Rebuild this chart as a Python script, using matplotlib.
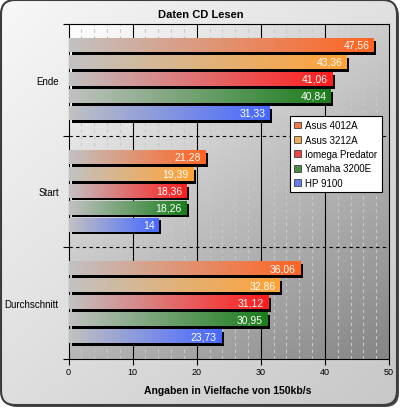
import numpy as np
import matplotlib
matplotlib.use("Agg")
import matplotlib.pyplot as plt
from matplotlib.patches import FancyBboxPatch, Patch
from matplotlib.colors import to_rgb

plt.rcParams["font.family"] = ["Liberation Sans", "DejaVu Sans"]

# data
groups = ["Ende", "Start", "Durchschnitt"]
drives = ["Asus 4012A", "Asus 3212A", "Iomega Predator", "Yamaha 3200E", "HP 9100"]
asus_4012a = [47.56, 21.28, 36.06]
asus_3212a = [43.36, 19.39, 32.86]
iomega_predator = [41.06, 18.36, 31.12]
yamaha_3200e = [40.84, 18.26, 30.95]
hp_9100 = [31.33, 14, 23.73]
series = [asus_4012a, asus_3212a, iomega_predator, yamaha_3200e, hp_9100]
colors = ["#ff6422", "#ffa236", "#ff1c1c", "#1a7d1a", "#4668ff"]
xticks = [0, 10, 20, 30, 40, 50]

GRAY = np.array([0.76, 0.76, 0.76])


def gradient(color, n=256):
    """horizontal gradient gray -> color"""
    t = np.linspace(0, 1, n)[:, None]
    rgb = GRAY * (1 - t) + np.array(to_rgb(color)) * t
    return rgb[None, :, :]


def fmt(v):
    return f"{v:g}".replace(".", ",")


fig = plt.figure(figsize=(4.01, 4.10), dpi=100)
fig.patch.set_facecolor("white")

# outer rounded frame
bg = fig.add_axes([0, 0, 1, 1], zorder=0)
bg.set_xlim(0, 401)
bg.set_ylim(410, 0)
bg.axis("off")
shadow = FancyBboxPatch((3, 3), 396, 405, boxstyle="round,pad=0,rounding_size=14",
                        fc="#4a4a4a", ec="none")
bg.add_patch(shadow)
frame = FancyBboxPatch((1, 1), 396, 405, boxstyle="round,pad=0,rounding_size=14",
                       fc="none", ec="#3c3c3c", lw=1.5, zorder=3)
bg.add_patch(frame)
yy, xx = np.mgrid[0:1:200j, 0:1:200j]
lum = 0.97 - 0.09 * xx - 0.1 * yy
im = bg.imshow(np.dstack([lum] * 3), extent=[0, 401, 410, 0], aspect="auto", zorder=2)
im.set_clip_path(frame)

# plot area
ax = fig.add_axes([68.5 / 401, 50 / 410, 320.5 / 401, 335 / 410], zorder=1)
lum = 1.0 - 0.2 * xx - 0.28 * yy
ax.imshow(np.dstack([lum] * 3), extent=[0, 1, 0, 1], transform=ax.transAxes,
          aspect="auto", zorder=0)

for x in range(2, 50, 2):
    if x % 10:
        ax.axvline(x, color="#c8c8c8", lw=0.8, ls=(0, (3, 3)), zorder=1)
    else:
        ax.axvline(x, color="black", lw=0.8, zorder=1)
for y in [1, 2]:
    ax.axhline(y, color="black", lw=0.8, ls=(0, (3, 3)), zorder=1)

h = 0.125
offsets = (np.arange(len(drives)) - 2) * 0.152 + 0.492
dx, dy = 0.47, 0.026
for i, (vals, col) in enumerate(zip(series, colors)):
    ys = np.arange(len(groups)) + offsets[i]
    ax.barh(ys + dy, vals, left=dx, height=h, color="black", zorder=2)
    bars = ax.barh(ys, vals, height=h, color="none", zorder=3)
    for bar, v in zip(bars, vals):
        y0 = bar.get_y()
        img = ax.imshow(gradient(col), extent=[0, v, y0 + h, y0], aspect="auto",
                        interpolation="bilinear", zorder=3)
        img.set_clip_path(bar)
        ax.text(v - 0.6, y0 + h / 2, fmt(v), color="white", fontsize=7.5,
                ha="right", va="center", zorder=4)

ax.set_xlim(0, 50)
ax.set_ylim(3, 0)
ax.set_xticks(xticks)
ax.tick_params(axis="x", direction="out", length=4, width=0.8, pad=1.5, labelsize=6.5)
ax.set_yticks([0, 1, 2, 3])
ax.set_yticklabels([])
ax.tick_params(axis="y", which="major", direction="out", length=4, width=0.8)
ax.set_yticks(np.arange(len(groups)) + 0.5, minor=True)
ax.set_yticklabels(groups, minor=True, fontsize=7)
ax.tick_params(axis="y", which="minor", length=0, pad=7)
for s in ax.spines.values():
    s.set_linewidth(0.8)
    s.set_color("black")

handles = [Patch(facecolor=gradient(c, 5)[0, 3], edgecolor="#404040", lw=0.6, label=d)
           for d, c in zip(drives, colors)]
leg = ax.legend(handles=handles, loc="upper left", bbox_to_anchor=(290 / 401, 1 - 117 / 410),
                bbox_transform=fig.transFigure, borderaxespad=0, fontsize=7, fancybox=False,
                edgecolor="black", framealpha=1, handlelength=0.7, handleheight=0.7,
                handletextpad=0.4, labelspacing=0.45, borderpad=0.45)
leg.get_frame().set_linewidth(0.8)
leg.set_zorder(5)

fig.text(200.5 / 401, 1 - 15 / 410, "Daten CD Lesen", ha="center", va="center",
         fontsize=8, fontweight="bold")
fig.text(228 / 401, 1 - 391 / 410, "Angaben in Vielfache von 150kb/s", ha="center",
         va="center", fontsize=7.5, fontweight="bold")

fig.savefig("out.png", dpi=100)
